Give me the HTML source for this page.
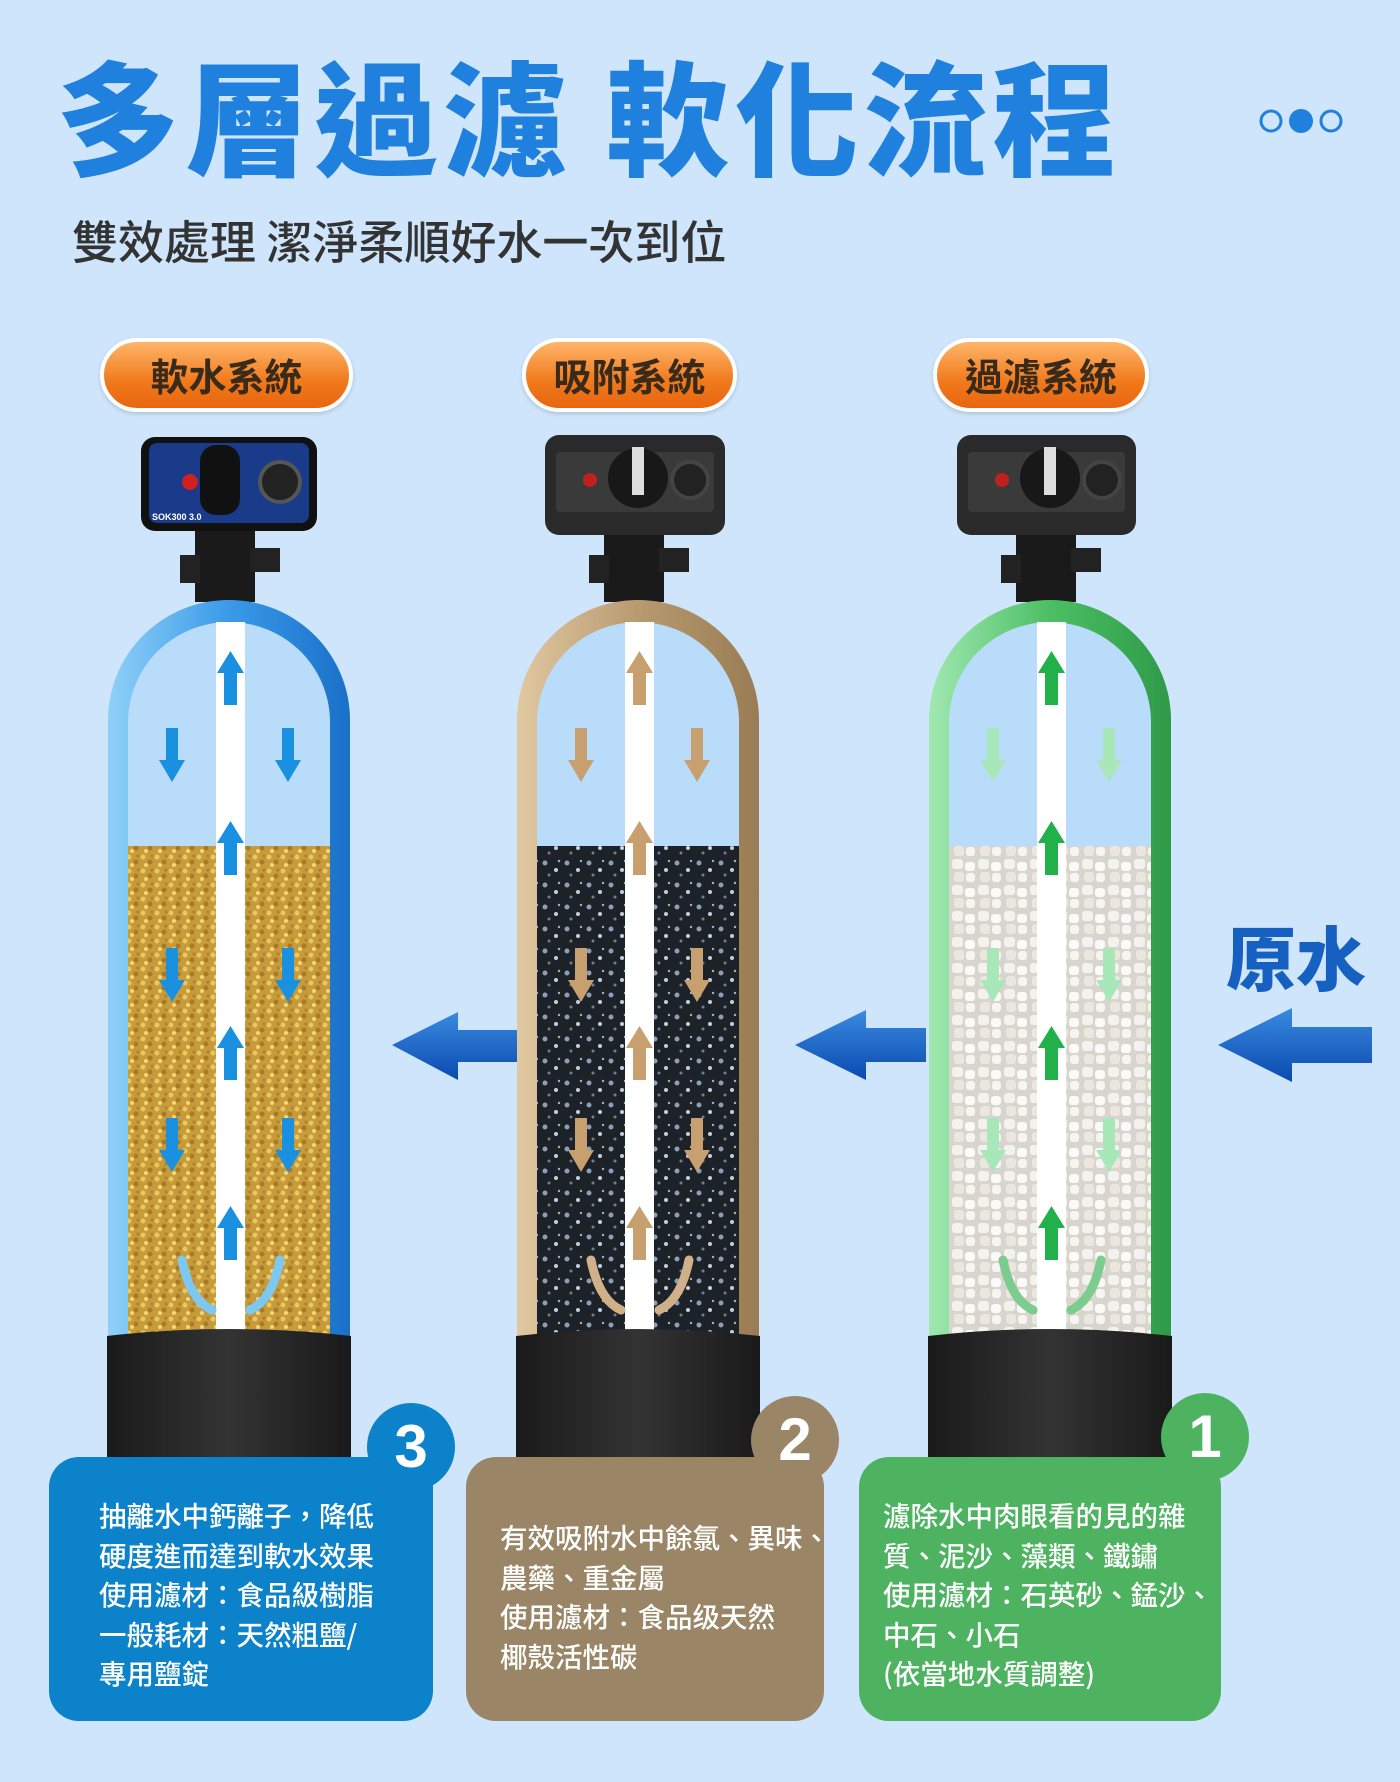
<!DOCTYPE html>
<html><head><meta charset="utf-8">
<style>
html,body{margin:0;padding:0}
body{width:1400px;height:1782px;position:relative;overflow:hidden;background:#cfe5fb;font-family:"Liberation Sans","Noto Sans CJK TC",sans-serif}
.abs{position:absolute}
.title{left:56px;top:32px;font-size:124px;font-weight:900;color:#1f80dd;letter-spacing:5px;white-space:nowrap;line-height:160px;font-family:"Noto Sans CJK TC",sans-serif}
.sub{left:72px;top:207px;font-size:46px;color:#333;white-space:nowrap;font-family:"Noto Sans CJK TC",sans-serif;font-weight:500}
.badge{height:66px;border:4px solid #fff;border-radius:40px;background:linear-gradient(#ffb56a,#f07a1c 60%,#e8650f);color:#3a2a1a;font-size:38px;font-weight:700;text-align:center;line-height:66px;font-family:"Noto Sans CJK TC",sans-serif;box-shadow:0 2px 4px rgba(0,0,0,.15)}
.box{border-radius:30px;color:#fff;font-size:27.5px;line-height:39.5px;font-family:"Noto Sans CJK TC",sans-serif;font-weight:500;box-sizing:border-box;white-space:nowrap}
.num{width:88px;height:88px;border-radius:50%;color:#fff;font-size:60px;font-weight:700;text-align:center;line-height:88px}
.raw{left:1226px;top:905px;font-size:70px;font-weight:900;color:#1560c0;font-family:"Noto Sans CJK TC",sans-serif;white-space:nowrap}
</style></head><body>
<div class="abs title">多層過濾 軟化流程</div>
<div class="abs sub">雙效處理 潔淨柔順好水一次到位</div>
<svg class="abs" style="left:1255px;top:105px" width="100" height="32">
<circle cx="16" cy="16" r="10" fill="none" stroke="#1f80dd" stroke-width="3"/>
<circle cx="46" cy="16" r="12" fill="#1f80dd"/>
<circle cx="76" cy="16" r="10" fill="none" stroke="#1f80dd" stroke-width="3"/>
</svg>
<div class="abs badge" style="left:100px;top:338px;width:245px">軟水系統</div>
<div class="abs badge" style="left:522px;top:338px;width:207px">吸附系統</div>
<div class="abs badge" style="left:933px;top:338px;width:208px">過濾系統</div>

<svg class="abs" style="left:0;top:0" width="1400" height="1782">
<defs>
<pattern id="gold" width="14" height="14" patternUnits="userSpaceOnUse">
<rect width="14" height="14" fill="#c79a3a"/>
<circle cx="3" cy="3" r="2.5" fill="#e8c860"/><circle cx="10" cy="8" r="2.5" fill="#a87a28"/><circle cx="6" cy="11" r="2" fill="#f0d878"/><circle cx="12" cy="2" r="1.5" fill="#b08030"/>
</pattern>
<pattern id="coal" width="22" height="22" patternUnits="userSpaceOnUse">
<rect width="22" height="22" fill="#1c2227"/>
<circle cx="4" cy="5" r="2.5" fill="#8aa0b8"/><circle cx="15" cy="12" r="2" fill="#c0d0e0"/><circle cx="8" cy="17" r="1.5" fill="#6a8098"/><circle cx="18" cy="3" r="1.2" fill="#a0b4c8"/>
</pattern>
<pattern id="quartz" width="26" height="26" patternUnits="userSpaceOnUse">
<rect width="26" height="26" fill="#d8d4ce"/>
<rect x="1" y="1" width="11" height="10" rx="3" fill="#f4f2ee"/><rect x="14" y="4" width="10" height="9" rx="3" fill="#fbfaf8"/><rect x="3" y="14" width="10" height="10" rx="3" fill="#ebe6de"/><rect x="15" y="15" width="9" height="9" rx="3" fill="#f7f5f1"/>
</pattern>
<linearGradient id="sb" x1="0" x2="1"><stop offset="0" stop-color="#8fd0f8"/><stop offset=".5" stop-color="#3a9ae8"/><stop offset="1" stop-color="#1a70c8"/></linearGradient>
<linearGradient id="st" x1="0" x2="1"><stop offset="0" stop-color="#e0c8a0"/><stop offset=".5" stop-color="#b89a70"/><stop offset="1" stop-color="#9a7c54"/></linearGradient>
<linearGradient id="sg" x1="0" x2="1"><stop offset="0" stop-color="#a0e8b0"/><stop offset=".5" stop-color="#4cbf64"/><stop offset="1" stop-color="#2e9a48"/></linearGradient>
<linearGradient id="blk" x1="0" x2="1"><stop offset="0" stop-color="#1a1a1a"/><stop offset=".5" stop-color="#333"/><stop offset="1" stop-color="#1a1a1a"/></linearGradient>
<linearGradient id="arr" x1="0" x2="0" y1="0" y2="1"><stop offset="0" stop-color="#3a8ae0"/><stop offset="1" stop-color="#0a4ab0"/></linearGradient>
</defs>

<g>
<rect x="195" y="530" width="60" height="72" fill="#1a1a1a"/>
<rect x="250" y="548" width="30" height="24" fill="#222"/>
<rect x="180" y="555" width="20" height="28" fill="#222"/>
<path d="M108 1340 V720 A121 120 0 0 1 350 720 V1340Z" fill="url(#sb)"/>
<path d="M128 1340 V722 A101 100 0 0 1 330 722 V1340Z" fill="#b9dcfb"/>
<rect x="128" y="846" width="202" height="494" fill="url(#gold)"/>
<rect x="216" y="622" width="29" height="718" fill="#fff"/>
</g>
<g transform="translate(409,0)">
<rect x="195" y="530" width="60" height="72" fill="#1a1a1a"/>
<rect x="250" y="548" width="30" height="24" fill="#222"/>
<rect x="180" y="555" width="20" height="28" fill="#222"/>
<path d="M108 1340 V720 A121 120 0 0 1 350 720 V1340Z" fill="url(#st)"/>
<path d="M128 1340 V722 A101 100 0 0 1 330 722 V1340Z" fill="#b9dcfb"/>
<rect x="128" y="846" width="202" height="494" fill="url(#coal)"/>
<rect x="216" y="622" width="29" height="718" fill="#fff"/>
</g>
<g transform="translate(821,0)">
<rect x="195" y="530" width="60" height="72" fill="#1a1a1a"/>
<rect x="250" y="548" width="30" height="24" fill="#222"/>
<rect x="180" y="555" width="20" height="28" fill="#222"/>
<path d="M108 1340 V720 A121 120 0 0 1 350 720 V1340Z" fill="url(#sg)"/>
<path d="M128 1340 V722 A101 100 0 0 1 330 722 V1340Z" fill="#b9dcfb"/>
<rect x="128" y="846" width="202" height="494" fill="url(#quartz)"/>
<rect x="216" y="622" width="29" height="718" fill="#fff"/>
</g>

<path d="M107 1336 Q229 1322 351 1336 V1457 H107Z" fill="url(#blk)"/>
<path d="M516 1336 Q638 1322 760 1336 V1457 H516Z" fill="url(#blk)"/>
<path d="M928 1336 Q1050 1322 1172 1336 V1457 H928Z" fill="url(#blk)"/>

<g fill="#1a90e0">
<path d="M224 705 h13 v-32 h7 l-13.5 -22 -13.5 22 h7z"/>
<path d="M224 875 h13 v-32 h7 l-13.5 -22 -13.5 22 h7z"/>
<path d="M224 1080 h13 v-32 h7 l-13.5 -22 -13.5 22 h7z"/>
<path d="M224 1260 h13 v-32 h7 l-13.5 -22 -13.5 22 h7z"/>
<path d="M166 728 h12 v32 h7 l-13 22 -13 -22 h7z M282 728 h12 v32 h7 l-13 22 -13 -22 h7z"/>
<path d="M166 948 h12 v32 h7 l-13 22 -13 -22 h7z M282 948 h12 v32 h7 l-13 22 -13 -22 h7z"/>
<path d="M166 1118 h12 v32 h7 l-13 22 -13 -22 h7z M282 1118 h12 v32 h7 l-13 22 -13 -22 h7z"/>
</g>
<g fill="#c8a070" transform="translate(409,0)">
<path d="M224 705 h13 v-32 h7 l-13.5 -22 -13.5 22 h7z"/>
<path d="M224 875 h13 v-32 h7 l-13.5 -22 -13.5 22 h7z"/>
<path d="M224 1080 h13 v-32 h7 l-13.5 -22 -13.5 22 h7z"/>
<path d="M224 1260 h13 v-32 h7 l-13.5 -22 -13.5 22 h7z"/>
<path d="M166 728 h12 v32 h7 l-13 22 -13 -22 h7z M282 728 h12 v32 h7 l-13 22 -13 -22 h7z"/>
<path d="M166 948 h12 v32 h7 l-13 22 -13 -22 h7z M282 948 h12 v32 h7 l-13 22 -13 -22 h7z"/>
<path d="M166 1118 h12 v32 h7 l-13 22 -13 -22 h7z M282 1118 h12 v32 h7 l-13 22 -13 -22 h7z"/>
</g>
<g fill="#22b04a" transform="translate(821,0)">
<path d="M224 705 h13 v-32 h7 l-13.5 -22 -13.5 22 h7z"/>
<path d="M224 875 h13 v-32 h7 l-13.5 -22 -13.5 22 h7z"/>
<path d="M224 1080 h13 v-32 h7 l-13.5 -22 -13.5 22 h7z"/>
<path d="M224 1260 h13 v-32 h7 l-13.5 -22 -13.5 22 h7z"/>
<path d="M166 728 h12 v32 h7 l-13 22 -13 -22 h7z M282 728 h12 v32 h7 l-13 22 -13 -22 h7z" fill="#a8e8b8"/>
<path d="M166 948 h12 v32 h7 l-13 22 -13 -22 h7z M282 948 h12 v32 h7 l-13 22 -13 -22 h7z" fill="#a8e8b8"/>
<path d="M166 1118 h12 v32 h7 l-13 22 -13 -22 h7z M282 1118 h12 v32 h7 l-13 22 -13 -22 h7z" fill="#a8e8b8"/>
</g>
<g fill="none" stroke-width="9" stroke-linecap="round">
<path d="M182 1260 Q190 1300 212 1310" stroke="#7cc8f0"/><path d="M280 1260 Q272 1300 250 1310" stroke="#7cc8f0"/>
<path d="M591 1260 Q599 1300 621 1310" stroke="#d0b088"/><path d="M689 1260 Q681 1300 659 1310" stroke="#d0b088"/>
<path d="M1003 1260 Q1011 1300 1033 1310" stroke="#7ccc90"/><path d="M1101 1260 Q1093 1300 1071 1310" stroke="#7ccc90"/>
</g>

<g>
<rect x="141" y="437" width="176" height="94" rx="14" fill="#111"/>
<rect x="149" y="443" width="160" height="80" rx="8" fill="#1a3a8a"/>
<rect x="200" y="445" width="40" height="70" rx="16" fill="#111"/>
<circle cx="280" cy="482" r="20" fill="#222" stroke="#555" stroke-width="4"/>
<circle cx="190" cy="482" r="8" fill="#d02020"/>
<text x="152" y="520" font-size="9" fill="#fff" font-weight="700">SOK300 3.0</text>
</g>
<g>
<rect x="545" y="435" width="180" height="100" rx="14" fill="#2a2a2a"/>
<rect x="556" y="452" width="158" height="60" rx="4" fill="#3a3a3a"/>
<circle cx="638" cy="478" r="30" fill="#181818"/>
<rect x="632" y="447" width="12" height="48" fill="#ddd"/>
<circle cx="690" cy="480" r="18" fill="#222" stroke="#444" stroke-width="4"/>
<circle cx="590" cy="480" r="7" fill="#c02020"/>
</g>
<g>
<rect x="957" y="435" width="179" height="100" rx="14" fill="#2a2a2a"/>
<rect x="968" y="452" width="157" height="60" rx="4" fill="#3a3a3a"/>
<circle cx="1050" cy="478" r="30" fill="#181818"/>
<rect x="1044" y="447" width="12" height="48" fill="#ddd"/>
<circle cx="1102" cy="480" r="18" fill="#222" stroke="#444" stroke-width="4"/>
<circle cx="1002" cy="480" r="7" fill="#c02020"/>
</g>

<path d="M392 1045 L458 1012 V1030 H517 V1062 H458 V1080Z" fill="url(#arr)"/>
<path d="M795 1045 L866 1010 V1028 H926 V1062 H866 V1080Z" fill="url(#arr)"/>
<path d="M1218 1045 L1292 1008 V1027 H1372 V1063 H1292 V1082Z" fill="url(#arr)"/>
</svg>

<div class="abs raw">原水</div>

<div class="abs box" style="left:49px;top:1457px;width:384px;height:264px;background:#0b82c9;padding:38px 0 0 50px">抽離水中鈣離子，降低<br>硬度進而達到軟水效果<br>使用濾材：食品級樹脂<br>一般耗材：天然粗鹽/<br>專用鹽錠</div>
<div class="abs num" style="left:367px;top:1403px;background:#0b82c9">3</div>
<div class="abs box" style="left:466px;top:1457px;width:358px;height:264px;background:#9a8566;padding:60px 0 0 34px">有效吸附水中餘氯、異味、<br>農藥、重金屬<br>使用濾材：食品级天然<br>椰殼活性碳</div>
<div class="abs num" style="left:751px;top:1396px;background:#9a8566">2</div>
<div class="abs box" style="left:859px;top:1457px;width:362px;height:264px;background:#4db360;padding:38px 0 0 24px">濾除水中肉眼看的見的雜<br>質、泥沙、藻類、鐵鏽<br>使用濾材：石英砂、錳沙、<br>中石、小石<br>(依當地水質調整)</div>
<div class="abs num" style="left:1161px;top:1393px;background:#4db360">1</div>
</body></html>
